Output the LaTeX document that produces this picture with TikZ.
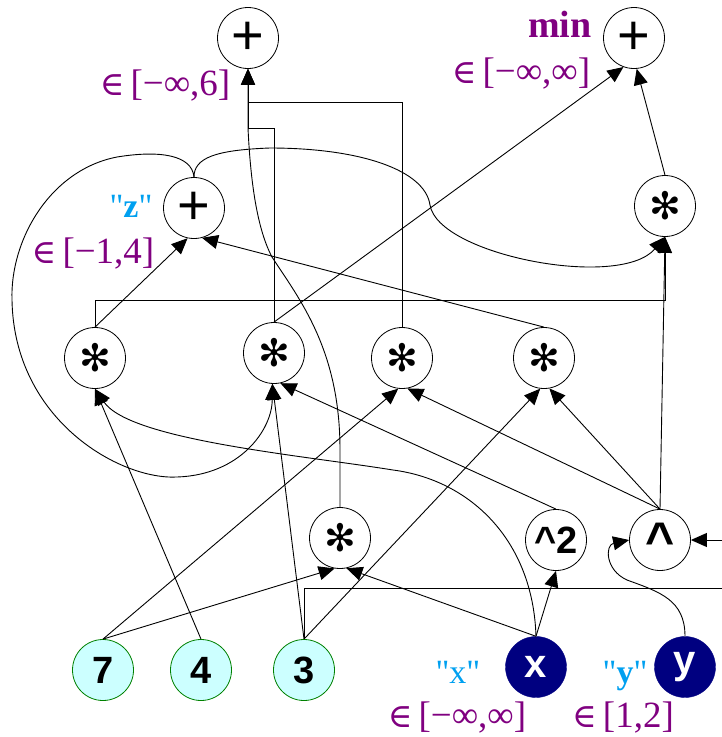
\documentclass[tikz,border=0pt]{standalone}
\usepackage{fontspec}
\setmainfont{Liberation Serif}[Ligatures=TeXOff]
\newfontfamily\sansf{Liberation Sans}
\newfontfamily\dvs{DejaVu Sans}
\newfontfamily\dvserif[Scale=0.9]{DejaVu Serif}
\usetikzlibrary{arrows.meta}
\definecolor{lblpurple}{RGB}{128,0,128}
\definecolor{lblcyan}{RGB}{0,160,240}
\definecolor{cfill}{RGB}{204,255,255}
\definecolor{cborder}{RGB}{0,128,0}
\definecolor{vfill}{RGB}{0,0,128}
\begin{document}
\begin{tikzpicture}[x=1pt,y=-1pt,
 op/.style={circle,draw=black,line width=0.8pt,fill=white,minimum size=61pt,inner sep=0pt},
 constn/.style={circle,draw=cborder,line width=0.8pt,fill=cfill,minimum size=61pt,inner sep=0pt,font=\sansf\bfseries\fontsize{38}{40}\selectfont},
 varn/.style={circle,draw=vfill,fill=vfill,minimum size=61pt,inner sep=0pt,text=white,font=\sansf\bfseries\fontsize{40}{42}\selectfont},
 plusn/.style={op,font=\sansf\fontsize{56}{60}\selectfont},
 starn/.style={op,font=\dvs\fontsize{38}{40}\selectfont},
 opb/.style={op,font=\sansf\bfseries\fontsize{38}{40}\selectfont},
 rng/.style={text=lblpurple,font=\fontsize{37}{40}\selectfont,inner sep=0pt,anchor=base},
 nm/.style={text=lblcyan,font=\fontsize{34}{38}\selectfont,inner sep=0pt,anchor=base},
 edge/.style={draw,line width=0.9pt,-{Triangle[length=16pt,width=14pt]}}
]
\useasboundingbox (0,0) rectangle (722,737);
\clip (0,0) rectangle (722,737);

% nodes
\node[plusn] (P1) at (248,38) {+};
\node[plusn] (MIN) at (634,38) {+};
\node[plusn] (Z) at (194,208) {+};
\node[starn] (S6) at (665,206) {✻};
\node[starn] (M1) at (95,358) {✻};
\node[starn] (M2) at (274,353) {✻};
\node[starn] (M3) at (402,358) {✻};
\node[starn] (M4) at (544,358) {✻};
\node[starn] (M5) at (340,538) {✻};
\node[opb] (SQ) at (556,540) {\textasciicircum 2};
\node[opb,font=\sansf\bfseries\fontsize{50}{52}\selectfont] (POW) at (660,540) {\textasciicircum};
\node[constn] (C7) at (103,670) {7};
\node[constn] (C4) at (201,670) {4};
\node[constn] (C3) at (304,670) {3};
\node[varn] (X) at (536,667) {x};
\node[varn] (Y) at (685,667) {y};

% labels
\node[rng] (lP1) at (165,95) {{\dvserif ∈}\,[−∞,6]};
\node[rng,font=\bfseries\fontsize{38}{40}\selectfont] (lMINn) at (560,37) {min};
\node[rng] (lMIN) at (521,83) {{\dvserif ∈}\,[−∞,∞]};
\node[nm] (lZn) at (131,217) {"\textbf{z}"};
\node[rng] (lZ) at (93,263) {{\dvserif ∈}\,[−1,4]};
\node[nm] (lXn) at (458,683) {"x"};
\node[rng] (lX) at (457,727) {{\dvserif ∈}\,[−∞,∞]};
\node[nm] (lYn) at (625,683) {"\textbf{y}"};
\node[rng] (lY) at (623,727) {{\dvserif ∈}\,[1,2]};

% junctions
\coordinate (j1) at (248,128);
\coordinate (j2) at (248,102);
\coordinate (j3) at (665,300);
\coordinate (jr) at (740,588);

% edges
\draw[edge] (C7.north) -- (M3.-97);
\draw[edge] (C7.north) -- (M5.-100);
\draw[edge] (C4.north) -- (M1.south);
\draw[edge] (C3.north) -- (M2.-93);
\draw[edge] (C3.north) -- (M4.-97);
\draw[edge] (C3.north) |- (jr) |- (POW.east);
\draw[edge] (X.north) -- (M5.-78);
\draw[edge] (X.north) -- (SQ.south);
\draw[edge] (X.north) .. controls (533,540) and (470,480) .. (393,470)
   .. controls (300,455) and (130,440) .. (M1.south);
\draw[edge] (Y.north) .. controls (685,600) and (660,592) .. (627,580)
   .. controls (605,570) and (605,545) .. (POW.west);
\draw[edge] (SQ.north) -- (M2.-78);
\draw[edge] (POW.north) -- (M3.-80);
\draw[edge] (POW.north) -- (M4.-80);
\draw[edge] (POW.north) -- (S6.south);
\draw[edge] (M1.north) -- (Z.-102);
\draw[edge] (M1.north) |- (j3) -- (S6.south);
\draw[edge] (M4.north) -- (Z.-75);
\draw[edge] (M2.north) |- (j1) -- (P1.south);
\draw[edge] (M2.north) -- (MIN.-110);
\draw[edge] (M3.north) |- (j2) -- (P1.south);
\draw[edge] (M5.north) -- (340,450) .. controls (340,350) and (300,300) .. (272,257)
   .. controls (255,225) and (250,170) .. (j1) -- (P1.south);
\draw[edge] (Z.north) .. controls (192,155) and (160,150) .. (117,157)
   .. controls (50,170) and (10,240) .. (12,300)
   .. controls (14,420) and (120,480) .. (177,477)
   .. controls (240,475) and (272,430) .. (M2.-93);
\draw[edge] (Z.north) .. controls (194,158) and (215,150) .. (270,148)
   .. controls (360,148) and (425,170) .. (430,205)
   .. controls (438,255) and (620,290) .. (S6.south);
\draw[edge] (S6.north) -- (MIN.-85);
\end{tikzpicture}
\end{document}
